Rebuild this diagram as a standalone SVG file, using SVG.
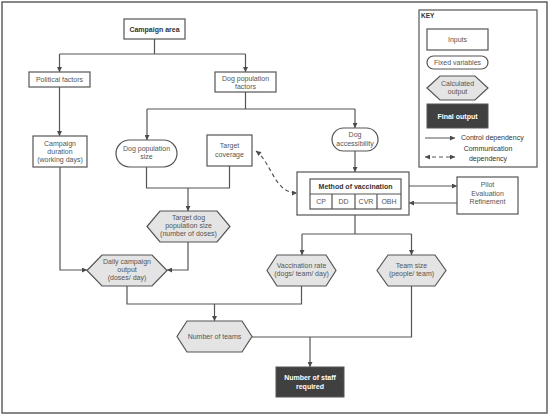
<svg xmlns="http://www.w3.org/2000/svg" width="550" height="417" viewBox="0 0 550 417">
<defs>
<marker id="ah" viewBox="0 0 10 10" refX="10" refY="5" markerWidth="6" markerHeight="5" markerUnits="userSpaceOnUse" orient="auto-start-reverse">
<path d="M0,0 L10,5 L0,10 z" fill="#4a4a4a"/>
</marker>
<style>
.n{fill:#fff;stroke:#555;stroke-width:1.2}
.h{fill:#e4e4e4;stroke:#555;stroke-width:1.2}
.d{fill:#404040;stroke:#555;stroke-width:1}
.t{font-family:"Liberation Sans",Arial,sans-serif;font-size:7px;fill:#555;text-anchor:middle}
.b{font-weight:bold;fill:#333}
.w{font-weight:bold;fill:#fff}
.c path{fill:none;stroke:#555;stroke-width:1.2}
.a{marker-end:url(#ah)}
</style>
</defs>
<rect x="0" y="0" width="550" height="417" fill="#fff"/>
<rect x="2" y="2" width="545" height="411" fill="none" stroke="#555" stroke-width="1.4"/>

<g class="c" id="connectors">
<path d="M154.5,39 V54 M59.5,54 H245.5"/>
<path class="a" d="M59.5,54 V72"/>
<path class="a" d="M245.5,54 V72"/>
<path class="a" d="M59.5,87 V136"/>
<path d="M245.5,92 V109 M147,109 H355"/>
<path class="a" d="M147,109 V140"/>
<path class="a" d="M355,109 V128"/>
<path d="M146.5,167 V188 H229.5 V166"/>
<path class="a" d="M188,188 V211"/>
<path class="a" d="M355,151 V172"/>
<path d="M256,151 C272,163 274,193 297,193" stroke-dasharray="4,3" marker-start="url(#ah)" marker-end="url(#ah)"/>
<path class="a" d="M409,186 H457"/>
<path class="a" d="M457,203 H409"/>
<path d="M355,215 V234 M302,234 H411.5"/>
<path class="a" d="M302,234 V255"/>
<path class="a" d="M411.5,234 V255"/>
<path class="a" d="M60,167 V270 H87"/>
<path class="a" d="M188,242 V270 H167"/>
<path d="M127,286 V304 H301.5 V286"/>
<path class="a" d="M214.5,304 V321"/>
<path d="M411.5,286 V337 H252"/>
<path class="a" d="M310,337 V367"/>
</g>

<g id="campaign-area"><rect class="n" x="124" y="19" width="61" height="20"/><text class="t b" x="154.5" y="31.5">Campaign area</text></g>
<g id="political-factors"><rect class="n" x="29" y="72" width="61" height="15"/><text class="t" x="59.5" y="82">Political factors</text></g>
<g id="dog-population-factors"><rect class="n" x="215" y="72" width="61" height="20"/><text class="t" x="245.5" y="80.5">Dog population</text><text class="t" x="245.5" y="88.5">factors</text></g>
<g id="campaign-duration"><rect class="n" x="33" y="136" width="54" height="31"/><text class="t" x="60" y="145.5">Campaign</text><text class="t" x="60" y="153.5">duration</text><text class="t" x="60" y="161.5">(working days)</text></g>
<g id="dog-population-size"><rect class="n" x="116" y="140" width="61" height="27" rx="13.5"/><text class="t" x="146.5" y="150.5">Dog population</text><text class="t" x="146.5" y="158.5">size</text></g>
<g id="target-coverage"><rect class="n" x="207" y="135" width="45" height="31"/><text class="t" x="229.5" y="147.5">Target</text><text class="t" x="229.5" y="156.5">coverage</text></g>
<g id="dog-accessibility"><rect class="n" x="332" y="128" width="46" height="23" rx="11.5"/><text class="t" x="355" y="136.5">Dog</text><text class="t" x="355" y="145.5">accessibility</text></g>
<g id="method-of-vaccination">
<rect class="n" x="297" y="172" width="112" height="43"/>
<rect class="n" x="310" y="179" width="91" height="30"/>
<path d="M310,194 H401 M332,194 V209 M355,194 V209 M377,194 V209" stroke="#555" stroke-width="1.2" fill="none"/>
<text class="t b" x="355.5" y="189">Method of vaccination</text>
<text class="t" x="321" y="204">CP</text><text class="t" x="343.5" y="204">DD</text><text class="t" x="366" y="204">CVR</text><text class="t" x="389" y="204">OBH</text>
</g>
<g id="pilot"><rect class="n" x="457" y="177" width="61" height="37"/><text class="t" x="487.5" y="186.5">Pilot</text><text class="t" x="487.5" y="195.5">Evaluation</text><text class="t" x="487.5" y="204">Refinement</text></g>
<g id="target-dog-population-size"><polygon class="h" points="147,226.5 160,211 217,211 230,226.5 217,242 160,242"/><text class="t" x="188.5" y="219.5">Target dog</text><text class="t" x="188.5" y="227.5">population size</text><text class="t" x="188.5" y="235.5">(number of doses)</text></g>
<g id="daily-campaign-output"><polygon class="h" points="87,270.5 102,255 152,255 167,270.5 152,286 102,286"/><text class="t" x="127" y="263.5">Daily campaign</text><text class="t" x="127" y="271.5">output</text><text class="t" x="127" y="280">(doses/ day)</text></g>
<g id="vaccination-rate"><polygon class="h" points="267,270.5 277,255 326,255 336,270.5 326,286 277,286"/><text class="t" x="301.5" y="267.5">Vaccination rate</text><text class="t" x="301.5" y="275.5">(dogs/ team/ day)</text></g>
<g id="team-size"><polygon class="h" points="377,270.5 388,255 435,255 446,270.5 435,286 388,286"/><text class="t" x="411.5" y="267.5">Team size</text><text class="t" x="411.5" y="275.5">(people/ team)</text></g>
<g id="number-of-teams"><polygon class="h" points="177,336.5 187,321 242,321 252,336.5 242,352 187,352"/><text class="t" x="214.5" y="339">Number of teams</text></g>
<g id="number-of-staff"><rect class="d" x="276" y="367" width="68" height="30"/><text class="t w" x="310" y="379.5">Number of staff</text><text class="t w" x="310" y="388.5">required</text></g>

<g id="key">
<rect x="419" y="10" width="118" height="157" fill="#fff" stroke="#555" stroke-width="1.2"/>
<text class="t b" x="421" y="17.5" style="text-anchor:start;font-size:6.5px">KEY</text>
<rect class="n" x="427" y="29" width="61" height="21"/><text class="t" x="457.5" y="41.5">Inputs</text>
<rect class="n" x="427" y="56" width="61" height="13" rx="6.5"/><text class="t" x="457.5" y="65">Fixed variables</text>
<polygon class="h" points="427,88 440,76 475,76 488,88 475,100 440,100"/><text class="t" x="457.5" y="85.5">Calculated</text><text class="t" x="457.5" y="93.5">output</text>
<rect class="d" x="427" y="104" width="61" height="24"/><text class="t w" x="457.5" y="118.5">Final output</text>
<path class="a" d="M425,138 H455" stroke="#555" stroke-width="1" fill="none"/>
<text class="t" x="461" y="140" style="text-anchor:start;fill:#333">Control dependency</text>
<path d="M425,157 H455" stroke="#555" stroke-width="1" fill="none" stroke-dasharray="4,3" marker-start="url(#ah)" marker-end="url(#ah)"/>
<text class="t" x="488" y="150.5" style="fill:#333">Communication</text>
<text class="t" x="488" y="160.5" style="fill:#333">dependency</text>
</g>
</svg>
